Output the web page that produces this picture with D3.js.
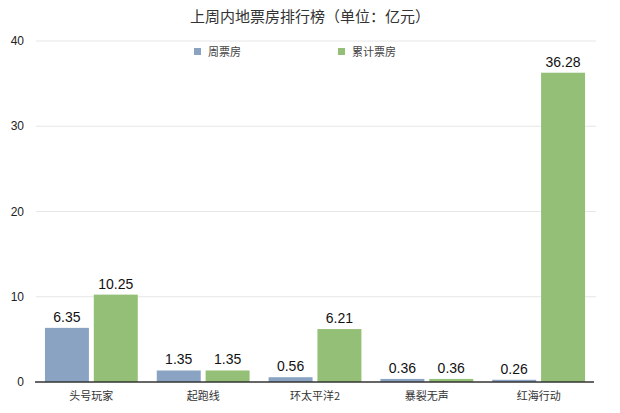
<!DOCTYPE html>
<html lang="zh">
<head>
<meta charset="UTF-8">
<title>上周内地票房排行榜</title>
<style>
  body { margin: 0; background: #fff; font-family: "Noto Sans CJK SC", "Noto Sans", sans-serif; }
  svg { display: block; }
</style>
</head>
<body>
<div id="chart"></div>
<script src="https://d3js.org/d3.v7.min.js"></script>
<script>
const categories = ['头号玩家', '起跑线', '环太平洋2', '暴裂无声', '红海行动'];
const seriesNames = ['周票房', '累计票房'];
const weekly = [6.35, 1.35, 0.56, 0.36, 0.26];
const total = [10.25, 1.35, 6.21, 0.36, 36.28];
const yTicks = [0, 10, 20, 30, 40];
const colors = ['#8aa3c3', '#93bf76'];

const width = 620, height = 413;
const margin = { top: 40, right: 26, bottom: 31, left: 36 };

const svg = d3.select('#chart').append('svg')
    .attr('width', width)
    .attr('height', height);

const x0 = d3.scaleBand()
    .domain(categories)
    .range([margin.left, width - margin.right])
    .paddingInner(0.17)
    .paddingOuter(0.08);

const x1 = d3.scaleBand()
    .domain(seriesNames)
    .range([0, x0.bandwidth()])
    .paddingInner(0.1);

const y = d3.scaleLinear()
    .domain([0, 40])
    .range([height - margin.bottom, margin.top + 1]);

// grid
svg.append('g')
    .selectAll('line')
    .data(yTicks.slice(1))
    .join('line')
    .attr('x1', margin.left)
    .attr('x2', width - margin.right + 2)
    .attr('y1', d => y(d))
    .attr('y2', d => y(d))
    .attr('stroke', '#e6e6e6')
    .attr('stroke-width', 1);

// y labels
svg.append('g')
    .selectAll('text')
    .data(yTicks)
    .join('text')
    .attr('x', 24)
    .attr('y', d => y(d) + 4)
    .attr('text-anchor', 'end')
    .attr('font-family', 'Liberation Sans, Arial, sans-serif')
    .attr('font-size', 12)
    .attr('fill', '#222')
    .text(d => d);

// bars
const rows = categories.map((c, i) => ({ cat: c, vals: [weekly[i], total[i]] }));
const grp = svg.append('g')
    .selectAll('g')
    .data(rows)
    .join('g')
    .attr('transform', d => `translate(${x0(d.cat)},0)`);

grp.selectAll('rect')
    .data(d => d.vals.map((v, j) => ({ key: seriesNames[j], v, j })))
    .join('rect')
    .attr('x', d => x1(d.key))
    .attr('width', x1.bandwidth())
    .attr('y', d => y(d.v))
    .attr('height', d => y(0) - y(d.v))
    .attr('fill', d => colors[d.j]);

grp.selectAll('text')
    .data(d => d.vals.map((v, j) => ({ key: seriesNames[j], v, j })))
    .join('text')
    .attr('x', d => x1(d.key) + x1.bandwidth() / 2)
    .attr('y', d => y(d.v) - 6)
    .attr('text-anchor', 'middle')
    .attr('font-family', 'Liberation Sans, Arial, sans-serif')
    .attr('font-size', 14)
    .attr('fill', '#111')
    .text(d => d.v.toFixed(2));

// baseline
svg.append('line')
    .attr('x1', margin.left - 1)
    .attr('x2', width - margin.right)
    .attr('y1', y(0))
    .attr('y2', y(0))
    .attr('stroke', '#333')
    .attr('stroke-width', 1.5);

// category labels
svg.append('g')
    .selectAll('text')
    .data(categories)
    .join('text')
    .attr('x', d => x0(d) + x0.bandwidth() / 2)
    .attr('y', y(0) + 18)
    .attr('text-anchor', 'middle')
    .attr('font-size', 11)
    .attr('fill', '#333')
    .text(d => d);

// title
svg.append('text')
    .attr('x', width / 2)
    .attr('y', 22)
    .attr('text-anchor', 'middle')
    .attr('font-size', 15)
    .attr('fill', '#333')
    .text('上周内地票房排行榜（单位：亿元）');

// legend
const legendX = [194, 338];
const leg = svg.append('g')
    .selectAll('g')
    .data(seriesNames)
    .join('g')
    .attr('transform', (d, i) => `translate(${legendX[i]},52)`);

leg.append('rect')
    .attr('x', 0).attr('y', -4)
    .attr('width', 7).attr('height', 7)
    .attr('fill', (d, i) => colors[i]);

leg.append('text')
    .attr('x', 14).attr('y', 4)
    .attr('font-size', 11)
    .attr('fill', '#444')
    .text(d => d);
</script>
</body>
</html>
